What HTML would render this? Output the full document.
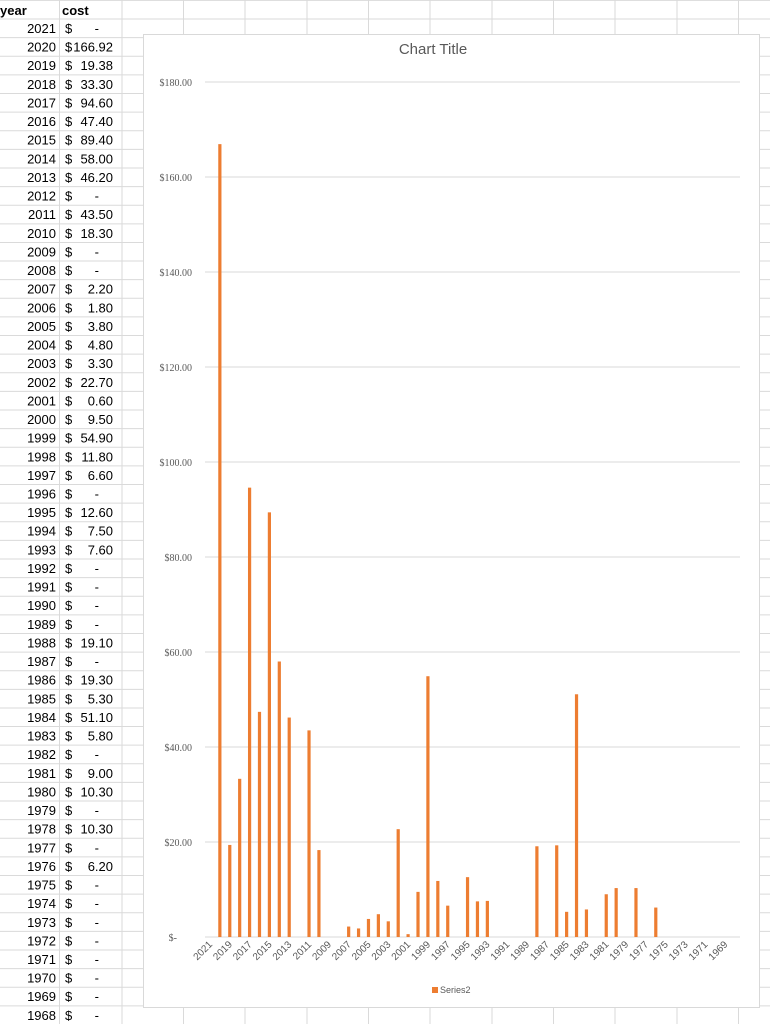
<!DOCTYPE html>
<html><head><meta charset="utf-8"><style>
body{margin:0;width:770px;height:1024px;overflow:hidden;background:#fff;font-family:"Liberation Sans",Calibri,sans-serif;}
#sheet{position:absolute;left:0;top:0;}
</style></head><body>
<svg id="sheet" width="770" height="1024"></svg>
<script>
const years=[2021,2020,2019,2018,2017,2016,2015,2014,2013,2012,2011,2010,2009,2008,2007,2006,2005,2004,2003,2002,2001,2000,1999,1998,1997,1996,1995,1994,1993,1992,1991,1990,1989,1988,1987,1986,1985,1984,1983,1982,1981,1980,1979,1978,1977,1976,1975,1974,1973,1972,1971,1970,1969,1968];
const costs=[0,166.92,19.38,33.30,94.60,47.40,89.40,58.00,46.20,0,43.50,18.30,0,0,2.20,1.80,3.80,4.80,3.30,22.70,0.60,9.50,54.90,11.80,6.60,0,12.60,7.50,7.60,0,0,0,0,19.10,0,19.30,5.30,51.10,5.80,0,9.00,10.30,0,10.30,0,6.20,0,0,0,0,0,0,0,0];
const yTicks=[0,20,40,60,80,100,120,140,160,180];
const NS="http://www.w3.org/2000/svg";
const svg=document.getElementById('sheet');
function mk(tag,attrs,parent,text){const e=document.createElementNS(NS,tag);for(const k in attrs)e.setAttribute(k,attrs[k]);if(text!==undefined)e.textContent=text;(parent||svg).appendChild(e);return e;}
// grid
const rowH=18.62,top0=19;
const colX=[59.5,122,183.5,245,307,368.5,430,492,553.5,615,677,738.5];
const grid=mk('g',{});


for(let i=-1;i<=54;i++){const y=top0+i*rowH;mk('line',{x1:0,x2:770,y1:y,y2:y,stroke:'#dadada','stroke-width':1},grid);}
colX.forEach(x=>mk('line',{x1:x,x2:x,y1:0,y2:1024,stroke:'#dadada','stroke-width':1},grid));
const h1=mk('text',{x:0,y:15,'font-size':13,'font-weight':'bold',fill:'#000'},svg,'year');


const h2=mk('text',{x:62,y:15,'font-size':13,'font-weight':'bold',fill:'#000'},svg,'cost');


years.forEach((yr,i)=>{
  const cy=top0+i*rowH+14;
  const t=mk('text',{x:56,y:cy,'font-size':13,'text-anchor':'end',fill:'#000'},svg,String(yr));
  
  
  const d=mk('text',{x:65,y:cy,'font-size':13,fill:'#000'},svg,'$');
  
  
  const v=costs[i];
  const s=v===0?'-':v.toFixed(2);
  const c=mk('text',{x:v===0?99:113,y:cy,'font-size':13,'text-anchor':'end',fill:'#000'},svg,s);
  
  
});
// chart
const chart=mk('g',{});


mk('rect',{x:143.5,y:34.5,width:616,height:973,fill:'#fff',stroke:'#d9d9d9'},chart);
const title=mk('text',{x:433,y:54,'font-size':15,'text-anchor':'middle',fill:'#595959'},chart,'Chart Title');


const x0=205,x1=740,yZero=937,yTop=82,maxV=180;
const yS=v=>yZero-(v/maxV)*(yZero-yTop);
const cw=(x1-x0)/years.length;
const xS=i=>x0+(i+0.5)*cw;
yTicks.forEach(t=>{
  const y=yS(t);
  mk('line',{x1:x0,x2:x1,y1:y,y2:y,stroke:'#d9d9d9'},chart);
  const lab=mk('text',{x:t===0?177:192,y:y+4,'font-size':10,'text-anchor':'end',fill:'#595959','font-family':'Liberation Serif, serif'},chart,t===0?'$-':'$'+t.toFixed(2));
  
  
});
costs.forEach((v,i)=>{
  if(v<=0)return;
  const b=mk('rect',{x:xS(i)-1.6,y:yS(v),width:3.2,height:yZero-yS(v),fill:'#ed7d31'},chart);
  
  
});
years.forEach((yr,i)=>{
  if(i%2)return;
  const x=xS(i)+3,y=yZero+8;
  const l=mk('text',{x:x,y:y,'font-size':10,'text-anchor':'end',fill:'#595959',transform:`rotate(-45 ${x} ${y})`},chart,String(yr));
  
  
});
const leg=mk('g',{},chart);


mk('rect',{x:432,y:987,width:6,height:6,fill:'#ed7d31'},leg);
mk('text',{x:440,y:993,'font-size':9,fill:'#595959'},leg,'Series2');
</script>
</body></html>
